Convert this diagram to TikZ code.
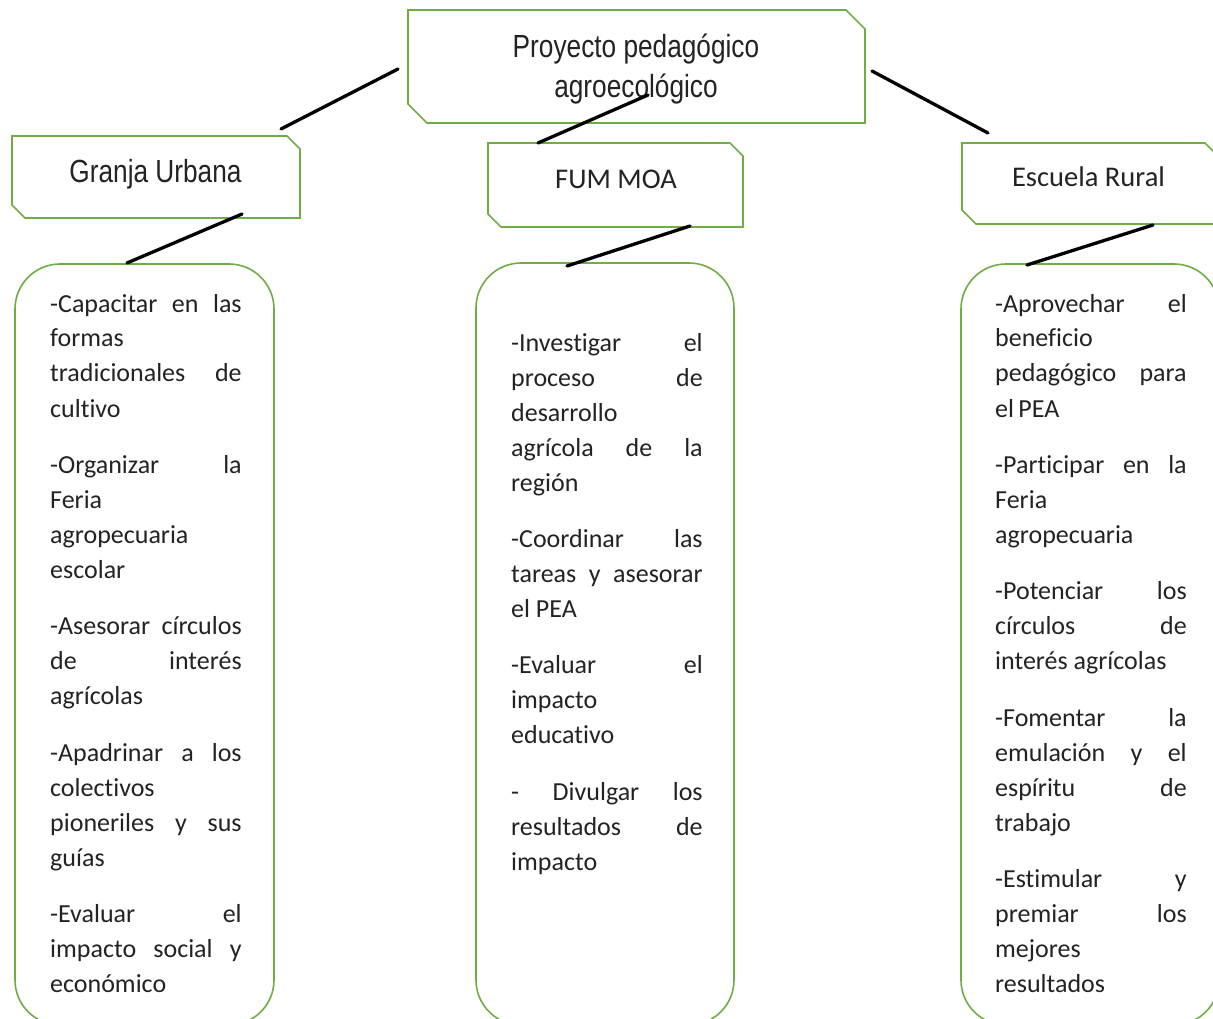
\documentclass[tikz,border=0pt]{standalone}
\usepackage{fontspec}
\usepackage{graphicx}
\setmainfont{Carlito}[Ligatures=NoCommon]
\newfontfamily\arialf{Liberation Sans}
\definecolor{boxgreen}{RGB}{112,173,71}
\definecolor{txt}{RGB}{35,35,35}
\newcommand\jst[1]{\hbox to 191.5pt{#1}}
\newcommand\lft[1]{\hbox to 191.5pt{#1\hfil}}
\newcommand\pgap{\vskip 21.4pt}
\tikzset{
  box0/.style={draw=none, inner sep=0pt, outer sep=0pt, rectangle},
  snip/.style={draw=boxgreen, line width=1.6pt, line join=miter},
  roundbox/.style={draw=boxgreen, line width=1.6pt, rectangle, rounded corners=45pt, inner sep=0pt, outer sep=0pt},
  link/.style={draw=black, line width=3.3pt, line cap=round},
  body/.style={anchor=base west, inner sep=0pt, text=txt, font=\fontsize{26}{35}\selectfont},
  headc/.style={anchor=base, inner sep=0pt, text=txt, font=\fontsize{28.5}{34}\selectfont},
  heada/.style={anchor=base, inner sep=0pt, text=txt, font=\arialf\fontsize{32}{40}\selectfont}
}
\newcommand\snipbox[6]{%
  \node[box0, minimum width={#4-#2}, minimum height={#5-#3}] (#1) at ({(#2+#4)/2},{(#3+#5)/2}) {};
  \draw[snip] (#1.north west) -- ([xshift=-#6pt]#1.north east) -- ([yshift=-#6pt]#1.north east)
    -- (#1.south east) -- ([xshift=#6pt]#1.south west) -- ([yshift=#6pt]#1.south west) -- cycle;
}
\begin{document}
\begin{tikzpicture}[x=1pt,y=-1pt]
\useasboundingbox (0,0) rectangle (1213,1019);
\clip (0,0) rectangle (1213,1019);
\fill[white] (0,0) rectangle (1213,1019);

% header boxes
\snipbox{topbox}{408}{10}{865}{123}{19}
\snipbox{granja}{12}{136}{300}{218}{13}
\snipbox{fum}{488}{143}{743}{227}{13}
\snipbox{escuela}{962}{143}{1219}{224}{14}

% header texts
\node[heada] (toptxt) at (636,58) {\scalebox{0.82}[1]{\begin{tabular}[t]{@{}c@{}}Proyecto pedagógico\\ agroecológico\end{tabular}}};
\node[heada] (granjatxt) at (155.5,183) {\scalebox{0.82}[1]{Granja Urbana}};
\node[headc] (fumtxt) at (616,189) {FUM MOA};
\node[headc] (escuelatxt) at (1088.5,187) {Escuela Rural};

% rounded content boxes
\node[roundbox, minimum width=259, minimum height=761] (lbox) at (144.5,644.5) {};
\node[roundbox, minimum width=258, minimum height=762] (mbox) at (605,644) {};
\node[roundbox, minimum width=258, minimum height=761] (rbox) at (1090,644.5) {};

% left text
\node[body] (ltxt) at (50,312) {\vtop{\baselineskip=35pt
\jst{-Capacitar en las}
\lft{formas}
\jst{tradicionales de}
\lft{cultivo}
\pgap
\jst{-Organizar la}
\lft{Feria}
\lft{agropecuaria}
\lft{escolar}
\pgap
\jst{-Asesorar círculos}
\jst{de interés}
\lft{agrícolas}
\pgap
\jst{-Apadrinar a los}
\lft{colectivos}
\jst{pioneriles y sus}
\lft{guías}
\pgap
\jst{-Evaluar el}
\jst{impacto social y}
\lft{económico}
}};

% middle text
\node[body] (mtxt) at (511,351) {\vtop{\baselineskip=35pt
\jst{-Investigar el}
\jst{proceso de}
\lft{desarrollo}
\jst{agrícola de la}
\lft{región}
\pgap
\jst{-Coordinar las}
\jst{tareas y asesorar}
\lft{el PEA}
\pgap
\jst{-Evaluar el}
\lft{impacto}
\lft{educativo}
\pgap
\jst{- Divulgar los}
\jst{resultados de}
\lft{impacto}
}};

% right text
\node[body] (rtxt) at (995,312) {\vtop{\baselineskip=35pt
\jst{-Aprovechar el}
\lft{beneficio}
\jst{pedagógico para}
\lft{el\,PEA}
\pgap
\jst{-Participar en la}
\lft{Feria}
\lft{agropecuaria}
\pgap
\jst{-Potenciar los}
\jst{círculos de}
\lft{interés agrícolas}
\pgap
\jst{-Fomentar la}
\jst{emulación y el}
\jst{espíritu de}
\lft{trabajo}
\pgap
\jst{-Estimular y}
\jst{premiar los}
\lft{mejores}
\lft{resultados}
}};

% connector end points
\coordinate (c1a) at (398,69);   \coordinate (c1b) at (281,129);
\coordinate (c2a) at (648,95);   \coordinate (c2b) at (538,143);
\coordinate (c3a) at (872,71);   \coordinate (c3b) at (988,133);
\coordinate (c4a) at (242,214);  \coordinate (c4b) at (127,263);
\coordinate (c5a) at (690,226);  \coordinate (c5b) at (567,266);
\coordinate (c6a) at (1153,225); \coordinate (c6b) at (1027,265);

\draw[link] (c1a) -- (c1b);
\draw[link] (c2a) -- (c2b);
\draw[link] (c3a) -- (c3b);
\draw[link] (c4a) -- (c4b);
\draw[link] (c5a) -- (c5b);
\draw[link] (c6a) -- (c6b);
\end{tikzpicture}
\end{document}
